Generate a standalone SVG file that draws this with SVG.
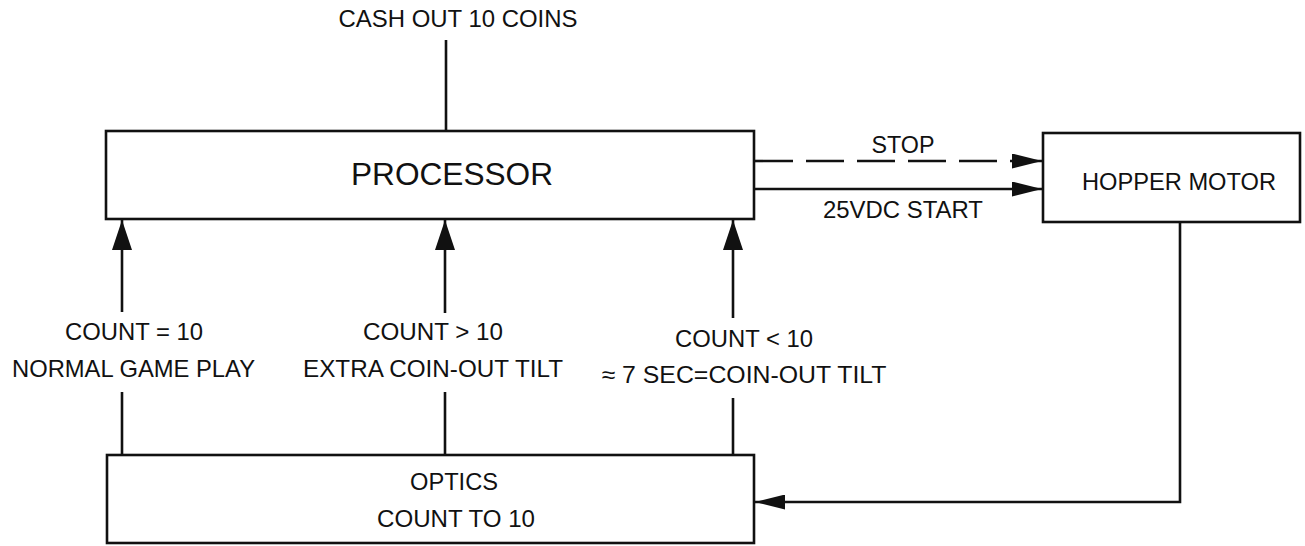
<svg xmlns="http://www.w3.org/2000/svg" width="1305" height="546" viewBox="0 0 1305 546">
<style>
  .box { fill: none; stroke: #111; stroke-width: 2.6; }
  .ln { fill: none; stroke: #111; stroke-width: 2.6; }
  .dash { stroke-dasharray: 38 13; }
  text { font-family: "Liberation Sans", Arial, sans-serif; fill: #111; text-anchor: middle; font-size: 24px; }
  .big { font-size: 32px; }
</style>
<defs>
  <marker id="ah" markerUnits="userSpaceOnUse" viewBox="0 0 30 20" markerWidth="30" markerHeight="20" refX="30" refY="10" orient="auto">
    <path d="M0,0 L30,10 L0,20 Z" fill="#111"/>
  </marker>
  <marker id="ahs" markerUnits="userSpaceOnUse" viewBox="0 0 30 15" markerWidth="30" markerHeight="15" refX="30" refY="7.5" orient="auto">
    <path d="M0,0 L30,7.5 L0,15 Z" fill="#111"/>
  </marker>
</defs>
<rect width="1305" height="546" fill="#fff"/>

<g id="cashout">
  <text x="458" y="27" textLength="239" lengthAdjust="spacingAndGlyphs">CASH OUT 10 COINS</text>
</g>

<g id="processor">
  <rect class="box" x="106" y="131" width="648" height="88"/>
  <text class="big" x="452" y="185" textLength="202" lengthAdjust="spacingAndGlyphs">PROCESSOR</text>
</g>

<g id="hopper">
  <rect class="box" x="1043" y="133" width="257" height="89"/>
  <text x="1179" y="190" textLength="194" lengthAdjust="spacingAndGlyphs">HOPPER MOTOR</text>
</g>

<g id="optics">
  <rect class="box" x="107" y="455" width="647" height="88"/>
  <text x="454" y="490" textLength="88" lengthAdjust="spacingAndGlyphs">OPTICS</text>
  <text x="456" y="527" textLength="158" lengthAdjust="spacingAndGlyphs">COUNT TO 10</text>
</g>

<g id="connectors">
  <line class="ln" x1="446" y1="40" x2="446" y2="131"/>
  <line class="ln dash" x1="755" y1="161" x2="1042" y2="161" marker-end="url(#ahs)"/>
  <line class="ln" x1="755" y1="189" x2="1042" y2="189" marker-end="url(#ahs)"/>
  <polyline class="ln" points="1180,222 1180,502 755,502" marker-end="url(#ahs)"/>
  <line class="ln" x1="122" y1="455" x2="122" y2="392"/>
  <line class="ln" x1="122" y1="312" x2="122" y2="220" marker-end="url(#ah)"/>
  <line class="ln" x1="445" y1="455" x2="445" y2="392"/>
  <line class="ln" x1="445" y1="313" x2="445" y2="220" marker-end="url(#ah)"/>
  <line class="ln" x1="733" y1="455" x2="733" y2="398"/>
  <line class="ln" x1="733" y1="318" x2="733" y2="220" marker-end="url(#ah)"/>
</g>

<g id="labels">
  <text x="903" y="153" textLength="63" lengthAdjust="spacingAndGlyphs">STOP</text>
  <text x="903" y="218" textLength="160" lengthAdjust="spacingAndGlyphs">25VDC START</text>
  <text x="134" y="340" textLength="138" lengthAdjust="spacingAndGlyphs">COUNT = 10</text>
  <text x="133.5" y="377" textLength="243" lengthAdjust="spacingAndGlyphs">NORMAL GAME PLAY</text>
  <text x="433" y="340" textLength="140" lengthAdjust="spacingAndGlyphs">COUNT &gt; 10</text>
  <text x="433" y="377" textLength="260" lengthAdjust="spacingAndGlyphs">EXTRA COIN-OUT TILT</text>
  <text x="744" y="347" textLength="138" lengthAdjust="spacingAndGlyphs">COUNT &lt; 10</text>
  <text x="744" y="383" textLength="285" lengthAdjust="spacingAndGlyphs">≈ 7 SEC=COIN-OUT TILT</text>
</g>
</svg>
